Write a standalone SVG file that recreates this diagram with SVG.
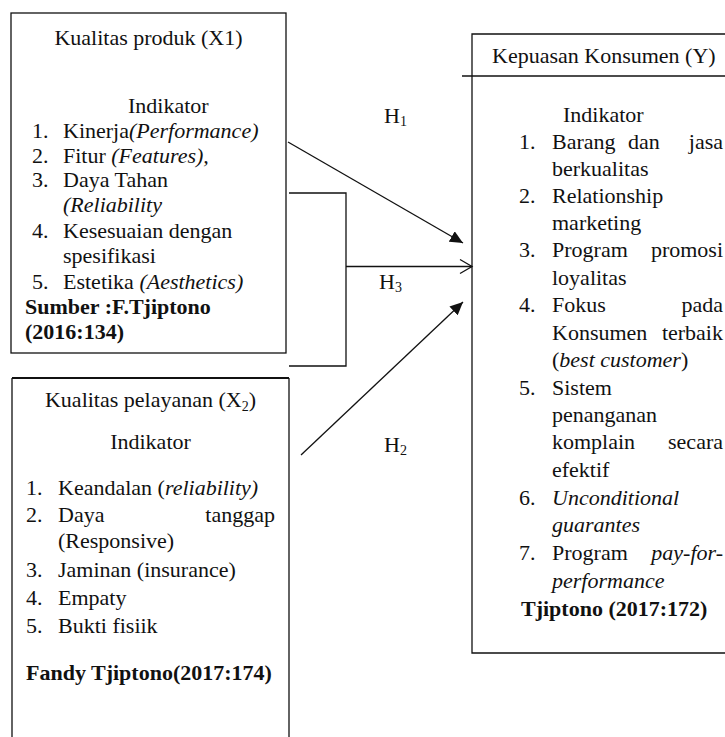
<svg xmlns="http://www.w3.org/2000/svg" width="725" height="737" viewBox="0 0 725 737">
<style>
.t{font-family:"Liberation Serif","Times New Roman",serif;font-size:22px;fill:#111}
.b{font-weight:bold}
.i{font-style:italic}
.ln{stroke:#111;stroke-width:1.3;fill:none}
.sub{font-size:14px}
</style>
<defs>
<marker id="tri" markerUnits="userSpaceOnUse" markerWidth="14" markerHeight="12" refX="13" refY="6" orient="auto">
<path d="M0,0 L13,6 L0,12 z" fill="#111"/>
</marker>
</defs>
<rect width="725" height="737" fill="#fff"/>

<g id="x1">
<rect class="ln" x="11" y="13" width="275" height="340"/>
<text class="t" x="148.5" y="45" text-anchor="middle">Kualitas produk (X1)</text>
<text class="t" x="128" y="113">Indikator</text>
<text class="t" x="32" y="138">1.</text><text class="t" x="63" y="138">Kinerja<tspan class="i">(Performance)</tspan></text>
<text class="t" x="32" y="163">2.</text><text class="t" x="63" y="163">Fitur <tspan class="i">(Features),</tspan></text>
<text class="t" x="32" y="187">3.</text><text class="t" x="63" y="187">Daya Tahan</text>
<text class="t i" x="63" y="212">(Reliability</text>
<text class="t" x="32" y="238">4.</text><text class="t" x="63" y="238">Kesesuaian dengan</text>
<text class="t" x="63" y="263">spesifikasi</text>
<text class="t" x="32" y="289">5.</text><text class="t" x="63" y="289">Estetika <tspan class="i">(Aesthetics)</tspan></text>
<text class="t b" x="25" y="314">Sumber :F.Tjiptono</text>
<text class="t b" x="25" y="339">(2016:134)</text>
</g>

<g id="x2">
<path class="ln" d="M12,737 V378 M289,378 V737"/>
<path d="M12,378 H289" stroke="#111" stroke-width="2.2"/>
<text class="t" x="150.5" y="407" text-anchor="middle">Kualitas pelayanan (X<tspan class="sub" dy="4">2</tspan><tspan dy="-4">)</tspan></text>
<text class="t" x="150.5" y="449" text-anchor="middle">Indikator</text>
<text class="t" x="26" y="495">1.</text><text class="t" x="58" y="495">Keandalan (<tspan class="i">reliability)</tspan></text>
<text class="t" x="26" y="522">2.</text><text class="t" x="58" y="522">Daya</text><text class="t" x="275" y="522" text-anchor="end">tanggap</text>
<text class="t" x="58" y="548">(Responsive)</text>
<text class="t" x="26" y="577">3.</text><text class="t" x="58" y="577">Jaminan (insurance)</text>
<text class="t" x="26" y="605">4.</text><text class="t" x="58" y="605">Empaty</text>
<text class="t" x="26" y="633">5.</text><text class="t" x="58" y="633">Bukti fisiik</text>
<text class="t b" x="26" y="680">Fandy Tjiptono(2017:174)</text>
</g>

<g id="y">
<path class="ln" d="M726,34 H472 V653 H726"/>
<path class="ln" d="M462,76 H726"/>
<text class="t" x="492" y="63">Kepuasan Konsumen (Y)</text>
<text class="t" x="563" y="122">Indikator</text>
<text class="t" x="519" y="149">1.</text><text class="t" x="552" y="149">Barang</text><text class="t" x="628" y="149">dan</text><text class="t" x="723" y="149" text-anchor="end">jasa</text>
<text class="t" x="552" y="176">berkualitas</text>
<text class="t" x="519" y="203">2.</text><text class="t" x="552" y="203">Relationship</text>
<text class="t" x="552" y="230">marketing</text>
<text class="t" x="519" y="257">3.</text><text class="t" x="552" y="257">Program</text><text class="t" x="723" y="257" text-anchor="end">promosi</text>
<text class="t" x="552" y="285">loyalitas</text>
<text class="t" x="519" y="312">4.</text><text class="t" x="552" y="312">Fokus</text><text class="t" x="723" y="312" text-anchor="end">pada</text>
<text class="t" x="552" y="340">Konsumen</text><text class="t" x="723" y="340" text-anchor="end">terbaik</text>
<text class="t" x="552" y="367">(<tspan class="i">best customer</tspan>)</text>
<text class="t" x="519" y="395">5.</text><text class="t" x="552" y="395">Sistem</text>
<text class="t" x="552" y="422">penanganan</text>
<text class="t" x="552" y="449">komplain</text><text class="t" x="723" y="449" text-anchor="end">secara</text>
<text class="t" x="552" y="477">efektif</text>
<text class="t" x="519" y="505">6.</text><text class="t i" x="552" y="505">Unconditional</text>
<text class="t i" x="552" y="532">guarantes</text>
<text class="t" x="519" y="560">7.</text><text class="t" x="552" y="560">Program</text><text class="t i" x="723" y="560" text-anchor="end">pay-for-</text>
<text class="t i" x="552" y="588">performance</text>
<text class="t b" x="521" y="616">Tjiptono (2017:172)</text>
</g>

<g id="connectors">
<line class="ln" x1="288" y1="142" x2="463" y2="243" marker-end="url(#tri)"/>
<line class="ln" x1="301" y1="455" x2="463" y2="302" marker-end="url(#tri)"/>
<polyline class="ln" points="289,193 346,193 346,366 289,366"/>
<line class="ln" x1="346" y1="266.5" x2="472" y2="266.5"/>
<polyline class="ln" points="460,259.5 472,266.5 460,273.5"/>
<text class="t" x="384" y="123">H<tspan class="sub" dy="3">1</tspan></text>
<text class="t" x="379" y="289">H<tspan class="sub" dy="3">3</tspan></text>
<text class="t" x="384" y="452">H<tspan class="sub" dy="3">2</tspan></text>
</g>
</svg>
